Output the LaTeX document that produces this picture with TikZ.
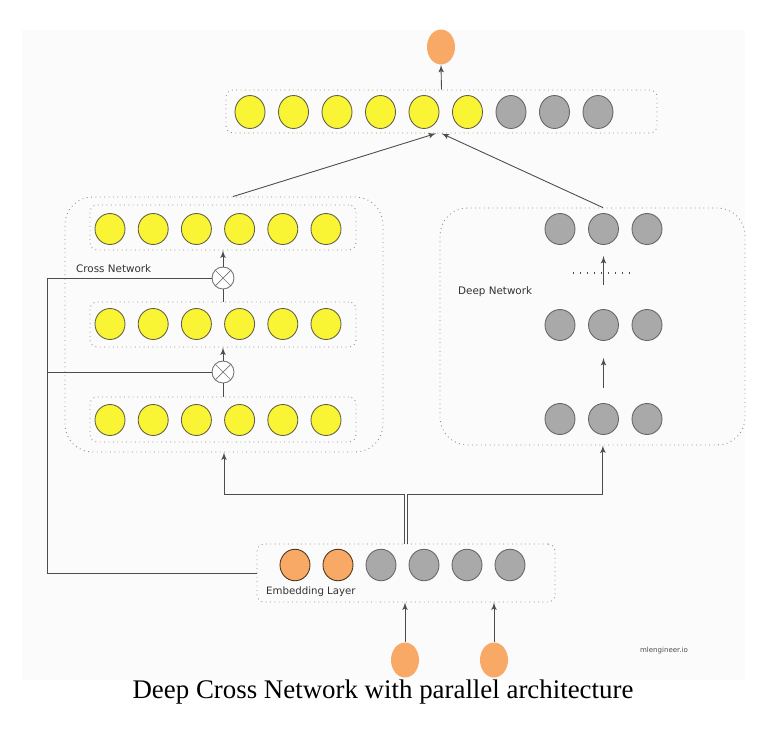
\documentclass[tikz,border=0pt]{standalone}
\usepackage{fontspec}
\setmainfont{Liberation Serif}
\newfontfamily\labelfont{DejaVu Sans}
\usetikzlibrary{positioning,arrows,calc,shapes}
\definecolor{unityellow}{HTML}{F9F534}
\definecolor{unitgrey}{HTML}{A9A9A9}
\definecolor{unitorange}{HTML}{F7A965}
\tikzset{
    layerbox/.style = {
        draw=black!45,
        shape=rectangle,
        rounded corners=4pt,
        dotted,
        line width=0.5pt
    },
    netbox/.style = {
        draw=black!45,
        shape=rectangle,
        rounded corners=0.55cm,
        dotted,
        line width=0.5pt
    },
    yellowunit/.style = {
        draw=black!70!yellow,
        fill=unityellow,
        shape=ellipse,
        minimum width=0.6cm,
        minimum height=0.66cm,
        inner sep=0pt,
        line width=0.5pt
    },
    greyunit/.style = {
        draw=black!60,
        fill=unitgrey,
        shape=ellipse,
        minimum width=0.6cm,
        minimum height=0.66cm,
        inner sep=0pt,
        line width=0.5pt
    },
    orangeunit/.style = {
        fill=unitorange,
        shape=ellipse,
        minimum width=0.56cm,
        minimum height=0.7cm,
        inner sep=0pt
    },
    crossop/.style = {
        draw=black!55,
        fill=white,
        shape=circle,
        minimum size=0.44cm,
        inner sep=0pt,
        line width=0.5pt
    },
    link/.style = {
        draw=black!70,
        line width=0.5pt
    },
    >=latex',
}

\begin{document}
\begin{tikzpicture}[x=0.02cm,y=-0.02cm]
            \useasboundingbox (0,0) rectangle (768,754);
            \fill[black!1.5] (22,30) rectangle (745,680);

            % output layer
            \node[orangeunit] (out) at (441,47) {};
            \node[layerbox, minimum width=8.62cm, minimum height=0.86cm] (topl) at (441.5,111.5) {};
            \foreach \i in {0,...,5}
                \node[yellowunit] (t\i) at (250+43.5*\i,112) {};
            \foreach \i in {6,7,8}
                \node[greyunit] (t\i) at (250+43.5*\i,112) {};

            % cross network
            \node[netbox, minimum width=6.36cm, minimum height=5.1cm] (cross) at (224,324.5) {};
            \node[layerbox, minimum width=5.32cm, minimum height=0.9cm] (row1) at (223,227.5) {};
            \node[layerbox, minimum width=5.32cm, minimum height=0.9cm] (row2) at (223,324.5) {};
            \node[layerbox, minimum width=5.32cm, minimum height=0.9cm] (row3) at (223,419.5) {};
            \foreach \r/\y in {1/229,2/324,3/420}
                \foreach \i in {0,...,5}
                    \node[yellowunit, minimum height=0.62cm] (c\r\i) at (110+43.2*\i,\y) {};
            \node[crossop] (m1) at (223,278) {};
            \node[crossop] (m2) at (223,372) {};
            \draw[black!55] (m1.45) -- (m1.225) (m1.135) -- (m1.315);
            \draw[black!55] (m2.45) -- (m2.225) (m2.135) -- (m2.315);
            \node[anchor=west, font=\labelfont\fontsize{5.9}{7}\selectfont, text=black!80] (crosslabel) at (70,269) {Cross Network};

            % deep network
            \node[netbox, minimum width=6.1cm, minimum height=4.74cm] (deep) at (592.5,326.5) {};
            \foreach \r/\y in {1/229,2/325,3/419}
                \foreach \i in {0,1,2}
                    \node[greyunit, minimum height=0.62cm] (d\r\i) at (560+43.5*\i,\y) {};
            \draw[black!70, line width=0.6pt, dash pattern=on 0.6pt off 3.4pt] (573,273) -- (630,273);
            \coordinate (gap) at (603.5,285);
            \node[anchor=west, font=\labelfont\fontsize{5.9}{7}\selectfont, text=black!80] (deeplabel) at (452,292) {Deep Network};

            % embedding layer
            \node[layerbox, minimum width=5.96cm, minimum height=1.16cm] (emb) at (406,573) {};
            \foreach \i in {0,1}
                \node[orangeunit, draw=black!60!brown, line width=0.5pt, minimum width=0.6cm, minimum height=0.63cm] (e\i) at (295+43*\i,565) {};
            \foreach \i in {2,...,5}
                \node[greyunit, minimum height=0.63cm] (e\i) at (295+43*\i,565) {};
            \node[anchor=west, font=\labelfont\fontsize{5.8}{7}\selectfont, text=black!80] (emblabel) at (260,592) {Embedding Layer};
            \node[orangeunit] (in1) at (405,660) {};
            \node[orangeunit] (in2) at (494,660) {};

            \node[font=\labelfont\fontsize{4}{5}\selectfont, text=black!70] (site) at (664,651) {mlengineer.io};
            \node[font=\fontsize{15.3}{18}\selectfont] (caption) at (383,692) {Deep Cross Network with parallel architecture};

            \coordinate (fork) at (406,494);
            \coordinate (bus) at (47,573);

            \path[link, ->] (topl.north) -- (out.south);
            \path[link, ->] (cross.86) -- (topl.256);
            \path[link, ->] (deep.85) -- (topl.south);

            \path[link] (row2.north) -- (m1.south);
            \path[link, ->] (m1.north) -- (row1.south);
            \path[link] (row3.north) -- (m2.south);
            \path[link, ->] (m2.north) -- (row2.south);

            \path[link, ->, shorten <=0.3cm, shorten >=0.34cm] (d31.north) -- (d21.south);
            \path[link, ->, shorten >=0.22cm] (gap) -- (d11.south);

            \path[link] (emb.west) -- (bus) |- (m1.west);
            \path[link] (m2.west) -- (m2.west -| bus);

            \path[link, ->] ([xshift=-1.1pt]emb.north) |- ([xshift=-1.1pt]fork) -| (cross.south);
            \path[link, ->] ([xshift=1.1pt]emb.north) |- ([xshift=1.1pt]fork) -| (deep.275);

            \path[link, ->] (in1.north) -- (in1 |- emb.south);
            \path[link, ->] (in2.north) -- (in2 |- emb.south);
        \end{tikzpicture}
\end{document}
